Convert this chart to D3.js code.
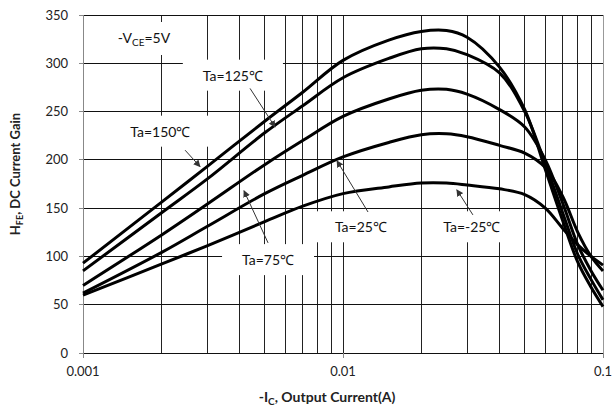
<!DOCTYPE html>
<html>
<head>
<meta charset="utf-8">
<title>hFE vs Ic</title>
<script src="https://d3js.org/d3.v7.min.js"></script>
<style>
  body { margin: 0; background: #fff; }
  text { font-family: Lato, "Liberation Sans", sans-serif; }
</style>
</head>
<body>
<script>
// collector current (A), shared by every curve
var currents = [0.001, 0.002, 0.003, 0.005, 0.007, 0.01, 0.015, 0.02, 0.025, 0.03, 0.04, 0.05, 0.06, 0.07, 0.08, 0.09, 0.1];
// hFE for each ambient temperature
var hfe150 = [93, 156, 193, 240, 270, 303, 324, 333, 334, 327, 296, 252, 190, 137, 94, 68, 48];
var hfe125 = [85, 145, 180, 228, 256, 285, 305, 315, 315, 309, 290, 250, 196, 145, 102, 76, 55];
var hfe75  = [70, 122, 154, 195, 220, 245, 263, 272, 273, 268, 252, 234, 200, 155, 112, 85, 65];
var hfe25  = [62, 104, 131, 165, 184, 203, 218, 226, 227, 224, 215, 207, 192, 162, 125, 100, 85];
var hfeM25 = [60, 92, 111, 136, 152, 165, 172, 176, 176, 174, 170, 164, 150, 129, 112, 100, 91];

var seriesNames = ["Ta=150℃", "Ta=125℃", "Ta=75℃", "Ta=25℃", "Ta=-25℃"];
var seriesValues = [hfe150, hfe125, hfe75, hfe25, hfeM25];

var yTicks = [0, 50, 100, 150, 200, 250, 300, 350];
var xMajor = [0.001, 0.01, 0.1];
var xMajorLabels = ["0.001", "0.01", "0.1"];

// annotation label anchors and arrows, in data units [current, hFE]
var labelPos = [[0.00152, 224], [0.00289, 282], [0.00409, 91], [0.00931, 125], [0.0243, 125]];
var arrowFrom = [[0.00247, 210], [0.00439, 274], [0.00515, 114], [0.01248, 146], [0.0316, 143]];
var arrowTo   = [[0.00282, 193], [0.00548, 234], [0.00416, 168], [0.00948, 199], [0.0274, 169]];
var vcePos = [0.00136, 321];

var W = 614, H = 412;
var x = d3.scaleLog().domain([0.001, 0.1]).range([83, 603]);
var y = d3.scaleLinear().domain([0, 350]).range([353, 15]);

var svg = d3.select("body").append("svg").attr("width", W).attr("height", H);

svg.append("defs").append("marker")
    .attr("id", "head")
    .attr("viewBox", "0 0 10 10")
    .attr("refX", 9).attr("refY", 5)
    .attr("markerWidth", 7).attr("markerHeight", 7)
    .attr("markerUnits", "userSpaceOnUse")
    .attr("orient", "auto")
  .append("path")
    .attr("d", "M0,0 L10,5 L0,10 z")
    .attr("fill", "#333");

// grid
var grid = svg.append("g");
grid.selectAll("line.v").data(x.ticks()).enter().append("line")
    .attr("x1", function(d){ return x(d); }).attr("x2", function(d){ return x(d); })
    .attr("y1", y(350)).attr("y2", y(0))
    .attr("stroke", function(d){ return d === 0.1 ? "#999" : "#222"; })
    .attr("stroke-width", 1).attr("shape-rendering", "crispEdges");
grid.selectAll("line.h").data(yTicks).enter().append("line")
    .attr("x1", x(0.001)).attr("x2", x(0.1))
    .attr("y1", function(d){ return y(d); }).attr("y2", function(d){ return y(d); })
    .attr("stroke", "#111").attr("stroke-width", 1).attr("shape-rendering", "crispEdges");

// axes
svg.append("line").attr("x1", x(0.001)).attr("x2", x(0.001)).attr("y1", y(350)).attr("y2", y(0))
    .attr("stroke", "#888").attr("shape-rendering", "crispEdges");
svg.append("g").selectAll("line").data(xMajor).enter().append("line")
    .attr("x1", function(d){ return x(d); }).attr("x2", function(d){ return x(d); })
    .attr("y1", y(0)).attr("y2", y(0) + 5)
    .attr("stroke", "#888").attr("shape-rendering", "crispEdges");
svg.append("g").selectAll("line").data(yTicks).enter().append("line")
    .attr("x1", x(0.001) - 4).attr("x2", x(0.001))
    .attr("y1", function(d){ return y(d); }).attr("y2", function(d){ return y(d); })
    .attr("stroke", "#888").attr("shape-rendering", "crispEdges");

svg.append("g").selectAll("text").data(yTicks).enter().append("text")
    .attr("x", x(0.001) - 15).attr("y", function(d){ return y(d); })
    .attr("dy", "0.35em").attr("text-anchor", "end")
    .attr("font-size", 13).attr("fill", "#222")
    .text(function(d){ return d; });
svg.append("g").selectAll("text").data(xMajor).enter().append("text")
    .attr("x", function(d){ return x(d); }).attr("y", y(0) + 23)
    .attr("text-anchor", "middle")
    .attr("font-size", 13).attr("fill", "#222")
    .text(function(d, i){ return xMajorLabels[i]; });

// axis titles
var xt = svg.append("text").attr("x", 327).attr("y", 402).attr("text-anchor", "middle")
    .attr("font-family", "'Liberation Sans', Arial, sans-serif")
    .attr("font-weight", "bold").attr("font-size", 14).attr("fill", "#222");
xt.append("tspan").text("-I");
xt.append("tspan").attr("font-size", 10).attr("dy", 3).text("C");
xt.append("tspan").attr("dy", -3).text(", Output Current(A)");

var yt = svg.append("text").attr("transform", "translate(20,174) rotate(-90)").attr("text-anchor", "middle")
    .attr("font-family", "'Liberation Sans', Arial, sans-serif")
    .attr("font-weight", "bold").attr("font-size", 13).attr("fill", "#222");
yt.append("tspan").text("H");
yt.append("tspan").attr("font-size", 9).attr("dy", 3).text("FE");
yt.append("tspan").attr("dy", -3).text(", DC Current Gain");

// annotation labels with white boxes that cut the grid
var boxes = svg.append("g");
var labels = svg.append("g");

function addLabel(build, pos) {
  var t = labels.append("text")
      .attr("x", x(pos[0])).attr("y", y(pos[1]))
      .attr("font-size", 14).attr("fill", "#111");
  build(t);
  var b = t.node().getBBox();
  boxes.append("rect")
      .attr("x", b.x - 20).attr("y", b.y - 7)
      .attr("width", b.width + 40).attr("height", b.height + 14)
      .attr("fill", "#fff");
}

addLabel(function(t){
  t.append("tspan").text("-V");
  t.append("tspan").attr("font-size", 10).attr("dy", 3).text("CE");
  t.append("tspan").attr("dy", -3).text("=5V");
}, vcePos);

seriesNames.forEach(function(name, i){
  addLabel(function(t){ t.text(name); }, labelPos[i]);
});

// curves
var line = d3.line()
    .x(function(d){ return x(d[0]); })
    .y(function(d){ return y(d[1]); })
    .curve(d3.curveCatmullRom.alpha(0.5));

svg.append("g").selectAll("path").data(seriesValues).enter().append("path")
    .attr("d", function(vals){ return line(currents.map(function(c, j){ return [c, vals[j]]; })); })
    .attr("fill", "none").attr("stroke", "#000").attr("stroke-width", 3)
    .attr("stroke-linejoin", "round");

// arrows
svg.append("g").selectAll("line").data(arrowFrom).enter().append("line")
    .attr("x1", function(d){ return x(d[0]); }).attr("y1", function(d){ return y(d[1]); })
    .attr("x2", function(d, i){ return x(arrowTo[i][0]); }).attr("y2", function(d, i){ return y(arrowTo[i][1]); })
    .attr("stroke", "#333").attr("stroke-width", 1)
    .attr("marker-end", "url(#head)");

labels.raise();
</script>
</body>
</html>
